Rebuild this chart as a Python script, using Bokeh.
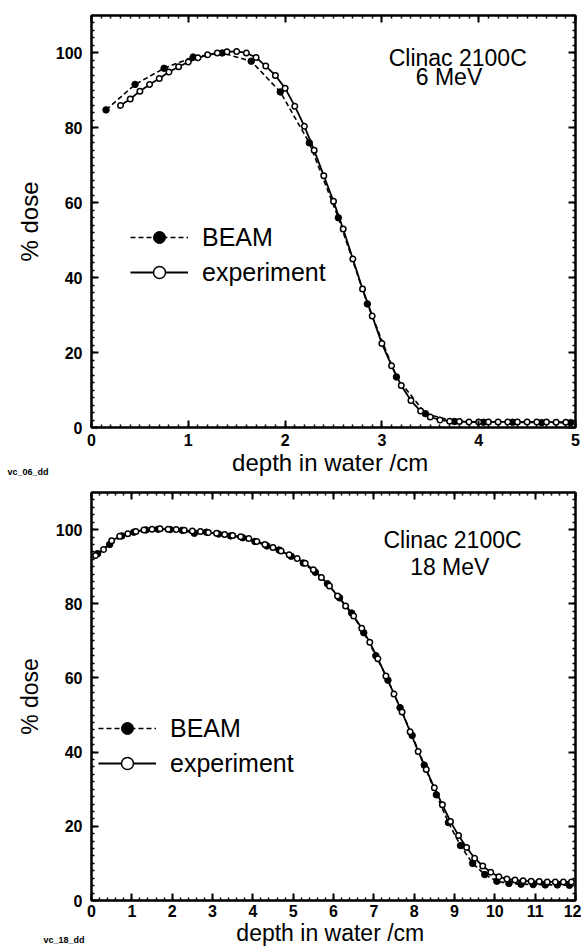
from bokeh.plotting import figure
from bokeh.models import (LinearAxis, SingleIntervalTicker, Legend, LegendItem, Label)
from bokeh.layouts import column
from bokeh.embed import file_html
from bokeh.resources import INLINE

# ---------------- data: 6 MeV ----------------
exp6_depth = [0.3, 0.4, 0.5, 0.6, 0.7, 0.8, 0.9, 1.0, 1.1, 1.2, 1.3, 1.4, 1.5, 1.6,
              1.7, 1.8, 1.9, 2.0, 2.1, 2.2, 2.3, 2.4, 2.5, 2.6, 2.7, 2.8, 2.9, 3.0,
              3.1, 3.2, 3.3, 3.4, 3.5, 3.6, 3.7, 3.8, 3.9, 4.0, 4.1, 4.2, 4.3, 4.4,
              4.5, 4.6, 4.7, 4.8, 4.9]
exp6_dose = [86.0, 87.7, 89.8, 91.6, 93.2, 94.9, 96.3, 97.6, 98.7, 99.5, 100.0, 100.3,
             100.4, 100.0, 98.8, 96.5, 94.0, 90.6, 85.8, 80.4, 74.0, 67.2, 60.4, 53.0,
             45.0, 37.0, 29.8, 22.4, 16.5, 11.2, 7.2, 4.4, 2.8, 2.0, 1.7, 1.6, 1.5,
             1.5, 1.5, 1.5, 1.5, 1.5, 1.5, 1.5, 1.5, 1.4, 1.4]
beam6_depth = [0.15, 0.45, 0.75, 1.05, 1.35, 1.65, 1.95, 2.25, 2.55, 2.85, 3.15, 3.45,
               3.75, 4.05, 4.35, 4.65, 4.95]
beam6_dose = [84.8, 91.6, 95.9, 98.9, 100.0, 97.8, 89.6, 76.0, 56.0, 33.0, 13.5, 3.7,
              1.6, 1.4, 1.4, 1.3, 1.3]

# ---------------- data: 18 MeV ----------------
exp18_depth = [0.1, 0.3, 0.5, 0.7, 0.9, 1.1, 1.3, 1.5, 1.7, 1.9, 2.1, 2.3, 2.5, 2.7,
               2.9, 3.1, 3.3, 3.5, 3.7, 3.9, 4.1, 4.3, 4.5, 4.7, 4.9, 5.1, 5.3, 5.5,
               5.7, 5.9, 6.1, 6.3, 6.5, 6.7, 6.9, 7.1, 7.3, 7.5, 7.7, 7.9, 8.1, 8.3,
               8.5, 8.7, 8.9, 9.1, 9.3, 9.5, 9.7, 9.9, 10.1, 10.3, 10.5, 10.7, 10.9,
               11.1, 11.3, 11.5, 11.7, 11.9]
exp18_dose = [93.0, 94.6, 97.0, 98.2, 98.9, 99.5, 99.9, 100.1, 100.2, 100.1, 100.0, 99.8,
              99.6, 99.5, 99.2, 99.0, 98.7, 98.4, 98.1, 97.6, 96.8, 96.0, 95.2, 94.2,
              93.2, 92.2, 90.9, 89.2, 87.1, 84.8, 82.1, 79.4, 76.7, 73.4, 69.6, 65.2,
              60.5, 55.7, 50.8, 45.5, 40.2, 35.3, 30.4, 25.8, 21.3, 17.5, 14.3, 11.4,
              9.3, 7.6, 6.4, 5.8, 5.5, 5.3, 5.2, 5.1, 5.0, 5.0, 5.0, 5.0]
beam18_depth = [0.15, 0.45, 0.75, 1.05, 1.35, 1.65, 1.95, 2.25, 2.55, 2.85, 3.15, 3.45,
                3.75, 4.05, 4.35, 4.65, 4.95, 5.25, 5.55, 5.85, 6.15, 6.45, 6.75, 7.05,
                7.35, 7.65, 7.95, 8.25, 8.55, 8.85, 9.15, 9.45, 9.75, 10.05, 10.35,
                10.65, 10.95, 11.25, 11.55, 11.85]
beam18_dose = [93.5, 96.0, 98.3, 99.3, 99.9, 100.1, 100.0, 99.8, 99.0, 99.3, 98.8, 98.3,
               97.8, 96.8, 95.6, 94.5, 92.8, 91.0, 88.5, 85.4, 81.6, 77.5, 72.2, 66.0,
               59.4, 52.0, 44.5, 36.5, 28.5, 21.0, 14.8, 10.0, 7.0, 5.2, 4.6, 4.4, 4.3,
               4.2, 4.2, 4.1]

FONT = "Liberation Sans"


def style_axis(ax):
    ax.axis_line_color = "black"
    ax.axis_line_width = 2
    ax.major_tick_in = 7
    ax.major_tick_out = 0
    ax.minor_tick_in = 3
    ax.minor_tick_out = 0
    ax.major_tick_line_width = 2
    ax.minor_tick_line_width = 1.5
    ax.major_tick_line_color = "black"
    ax.minor_tick_line_color = "black"


def make_panel(exp_x, exp_y, beam_x, beam_y, xmax, x_minor, energy, code,
               title_xy, energy_xy, legend_loc, code_xy, borders, fonts):
    left, right, top, bottom, w, h = borders
    tick_fs, label_fs, tick_so, label_so = fonts
    p = figure(width=w, height=h, x_range=(0, xmax), y_range=(0, 110),
               output_backend="svg", toolbar_location=None,
               min_border_left=left, min_border_right=right,
               min_border_top=top, min_border_bottom=bottom)
    p.xgrid.visible = False
    p.ygrid.visible = False
    p.outline_line_color = "black"
    p.outline_line_width = 2
    p.background_fill_color = "white"
    p.border_fill_color = "white"

    xax = p.below[0]
    yax = p.left[0]
    xax.ticker = SingleIntervalTicker(interval=1, num_minor_ticks=x_minor)
    yax.ticker = SingleIntervalTicker(interval=20, num_minor_ticks=10)
    xax.axis_label = "depth in water  /cm"
    yax.axis_label = "% dose"
    for ax in (xax, yax):
        style_axis(ax)
        ax.major_label_text_font = FONT
        ax.major_label_text_font_style = "bold"
        ax.major_label_text_font_size = tick_fs
        ax.major_label_text_color = "black"
        ax.axis_label_text_font = FONT
        ax.axis_label_text_font_style = "normal"
        ax.axis_label_text_color = "black"
        ax.axis_label_text_font_size = label_fs
    xax.major_label_standoff = tick_so
    xax.axis_label_standoff = label_so
    yax.major_label_standoff = 9
    yax.axis_label_standoff = 10

    # extra axes on top / right: tick marks only (labels not drawn)
    top_ax = LinearAxis(ticker=SingleIntervalTicker(interval=1, num_minor_ticks=x_minor))
    right_ax = LinearAxis(ticker=SingleIntervalTicker(interval=20, num_minor_ticks=10))
    for ax in (top_ax, right_ax):
        style_axis(ax)
        ax.major_label_text_font_size = "1px"
        ax.major_label_text_color = None
        ax.major_label_standoff = 0
    p.add_layout(top_ax, "above")
    p.add_layout(right_ax, "right")

    ln_b = p.line(beam_x, beam_y, line_color="black", line_width=1.6, line_dash="5 3")
    sc_b = p.scatter(beam_x, beam_y, marker="circle", size=6.5, fill_color="black",
                     line_color="black")
    ln_e = p.line(exp_x, exp_y, line_color="black", line_width=1.8)
    sc_e = p.scatter(exp_x, exp_y, marker="circle", size=5.5, fill_color="white",
                     line_color="black", line_width=1.5)

    legend = Legend(items=[LegendItem(label="BEAM", renderers=[ln_b, sc_b]),
                           LegendItem(label="experiment", renderers=[ln_e, sc_e])],
                    location=legend_loc, glyph_width=58, glyph_height=30,
                    label_height=30, spacing=5, label_standoff=14, padding=0,
                    margin=0, border_line_alpha=0, background_fill_alpha=0,
                    label_text_font=FONT, label_text_font_size="25px",
                    label_text_color="black")
    p.add_layout(legend)

    p.add_layout(Label(x=title_xy[0], y=title_xy[1], text="Clinac 2100C",
                       text_font=FONT, text_font_size="23px", text_color="black",
                       text_baseline="alphabetic"))
    p.add_layout(Label(x=energy_xy[0], y=energy_xy[1], text=energy,
                       text_font=FONT, text_font_size="23px", text_color="black",
                       text_baseline="alphabetic"))
    # small file code in the lower left margin; held by a side panel (not clipped
    # to the frame), positioned in screen pixels relative to that panel
    p.add_layout(Label(x=code_xy[0], y=code_xy[1], x_units="screen", y_units="screen",
                       text=code, text_font=FONT, text_font_size="9px",
                       text_font_style="bold", text_color="black",
                       text_baseline="alphabetic"), "above")
    return p


p1 = make_panel(exp6_depth, exp6_dose, beam6_depth, beam6_dose, 5, 10, "6 MeV",
                "vc_06_dd", (3.07, 98.7), (3.35, 93.6), (39, 140), (-84, -456),
                (91, 6, 15, 52, 581, 479), ("16px", "24px", 6, 0))
p2 = make_panel(exp18_depth, exp18_dose, beam18_depth, beam18_dose, 12, 5, "18 MeV",
                "vc_18_dd", (7.24, 97.3), (7.9, 90.0), (7, 122), (-48, -447),
                (88, 4, 13, 46, 581, 469), ("16px", "23px", 4, 0))

layout = column(p1, p2, spacing=0)
open("out.html", "w").write(file_html(layout, INLINE))
